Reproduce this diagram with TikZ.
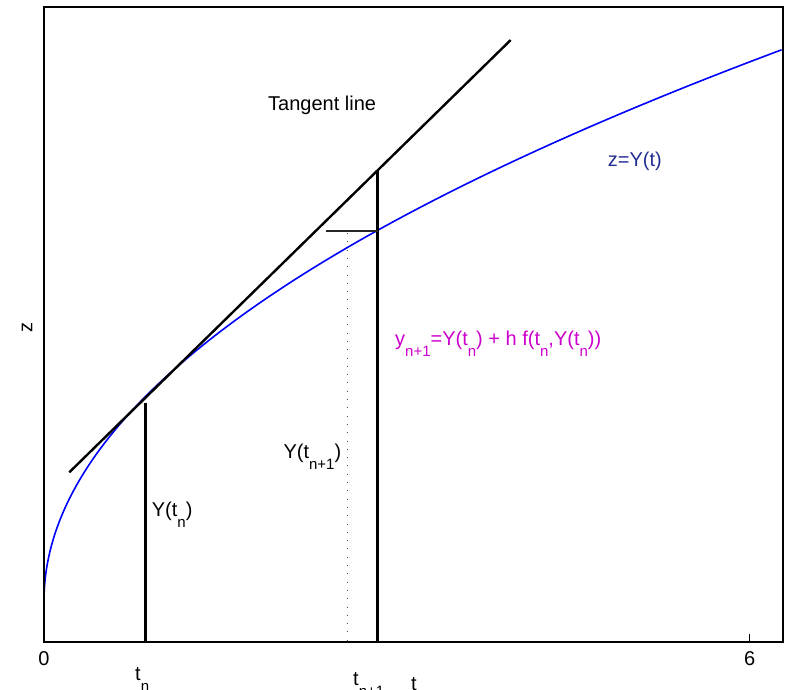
\documentclass[tikz,border=0pt]{standalone}
\usepackage{fontspec}
\setmainfont{Liberation Sans}
\usetikzlibrary{calc}
\definecolor{curveblue}{RGB}{0,0,255}
\definecolor{labelblue}{RGB}{35,45,145}
\definecolor{formulamag}{RGB}{204,0,204}
\def\sub#1{\raisebox{-11pt}{\fontsize{15}{15}\selectfont #1}}

\begin{document}
\begin{tikzpicture}[x=1pt, y=-1pt,
		lbl/.style={font=\fontsize{20}{24}\selectfont, inner sep=0pt, anchor=base west}]
			%%%%% START %%%%%
			\useasboundingbox (0,0) rectangle (787,690);
			
			% curve z = Y(t)
			\draw[curveblue, line width=1.6pt] plot[domain=0:1, samples=200, smooth] ({44+739*\x*\x}, {601-551.7*\x});
			
			% tangent line
			\draw[line width=2.4pt] (69.3, 472.3) -- (510.7, 40);
			
			\draw[line width=3.2pt] (145.3, 642) -- (145.3, 402.7);
			\draw[line width=3.2pt] (377.7, 642) -- (377.7, 171);
			\draw[line width=1.1pt, color=black!85] (325.7, 231) -- (377.7, 231);
			\draw[line width=1pt, color=black!70, dash pattern=on 1pt off 7.3pt] (347.7, 233) -- (347.7, 640);
			
			% axes
			\draw[line width=1.3pt] (44, 7) rectangle (783, 642);
			\draw[line width=1pt] (749.7, 642) -- (749.7, 634.3);
			
			\node[lbl] (tangent) at (268, 111) {Tangent line};
			\node[lbl, color=labelblue] (ylabel) at (607.7, 166) {z=Y(t)};
			\node[lbl, color=formulamag] (update) at (395, 345) {y\sub{n+1}=Y(t\sub{n}) + h f(t\sub{n},Y(t\sub{n}))};
			\node[lbl] (ynext) at (283.3, 458) {Y(t\sub{n+1})};
			\node[lbl] (ycur) at (151.7, 516.7) {Y(t\sub{n})};
			
			\node[lbl, anchor=center] (xzero) at (44, 659) {0};
			\node[lbl, anchor=center] (xsix) at (749.7, 659) {6};
			\node[lbl] (tn) at (135, 680) {t\sub{n}};
			\node[lbl] (tnext) at (353, 685) {t\sub{n+1}};
			\node[lbl] (taxis) at (411, 690) {t};
			\node[lbl, anchor=center, rotate=90] (zaxis) at (27, 327) {z};
			
			%%%%% END %%%%%
		\end{tikzpicture}
\end{document}
